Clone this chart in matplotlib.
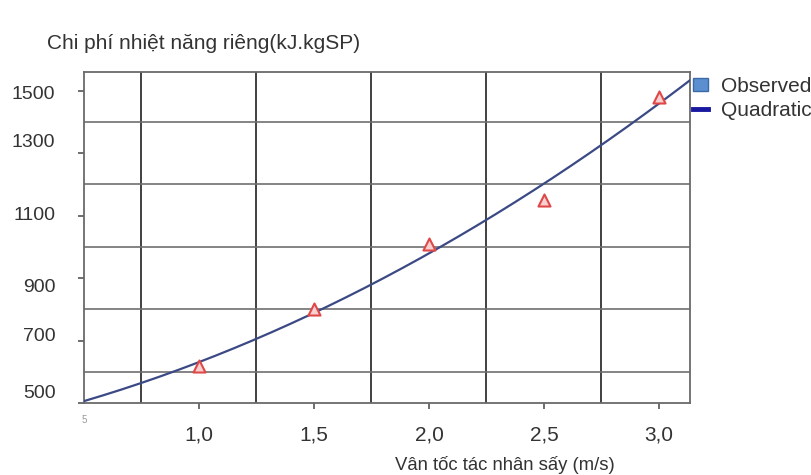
"""
    Chi phi nhiet nang rieng theo van toc tac nhan say
    Observed points + quadratic fit
"""
import matplotlib.pyplot as plt
import matplotlib.transforms as mtransforms
from matplotlib.patches import Patch
from matplotlib.lines import Line2D
import numpy as np

plt.rcParams['font.family'] = ['Liberation Sans', 'DejaVu Sans']

# Observed data
velocity = [1.0, 1.5, 2.0, 2.5, 3.0]
heat_cost = [620, 800, 1010, 1150, 1480]

x_ticks = [1.0, 1.5, 2.0, 2.5, 3.0]
x_tick_labels = ['1,0', '1,5', '2,0', '2,5', '3,0']
y_ticks = [500, 700, 900, 1100, 1300, 1500]
y_tick_labels = ['500', '700', '900', '1100', '1300', '1500']
x_grid = [0.75, 1.25, 1.75, 2.25, 2.75]
y_grid = [600, 800, 1000, 1200, 1400]

# the y labels in the original are slightly off their ticks (points, + is up)
y_label_shift = [7, 3, -7, 0, 8, -3]


def main() -> None:
    fig = plt.figure(figsize=(8.12, 4.75), dpi=100)
    ax = fig.add_axes([0.1034, 0.1516, 0.7464, 0.6968])

    # Quadratic fit of the observed points
    coef = np.polyfit(velocity, heat_cost, 2)
    xs = np.linspace(0.5, 3.2, 200)
    ax.plot(xs, np.polyval(coef, xs), color='#3b4a85', linewidth=1.6, zorder=3)

    ax.scatter(velocity, heat_cost, marker='^', s=75, facecolor='#f8d0d0',
               edgecolor='#e04848', linewidth=1.5, zorder=4)

    # Grid lines sit between the ticks
    for gx in x_grid:
        ax.axvline(gx, color='#404040', linewidth=1.4, zorder=1)
    for gy in y_grid:
        ax.axhline(gy, color='#707070', linewidth=1.2, zorder=1)

    ax.set_xlim(0.5, 3.135)
    ax.set_ylim(500, 1560)
    ax.set_xticks(x_ticks)
    ax.set_xticklabels(x_tick_labels)
    ax.set_yticks(y_ticks)
    ax.set_yticklabels([])
    ax.tick_params(colors='#555555', labelcolor='#333333', length=4, width=1.2)
    ax.tick_params(axis='x', labelsize=15, pad=12)

    # y labels drawn by hand so each can keep its own small offset
    base = mtransforms.blended_transform_factory(ax.transAxes, ax.transData)
    for val, lab, dy in zip(y_ticks, y_tick_labels, y_label_shift):
        tr = base + mtransforms.ScaledTranslation(0, dy / 72, fig.dpi_scale_trans)
        ax.text(-0.047, val, lab, transform=tr, ha='right', va='center',
                fontsize=14, color='#333333')

    for sp in ax.spines.values():
        sp.set_color('#6a6a6a')
        sp.set_linewidth(1.3)

    ax.text(0.0, -0.035, '5', transform=ax.transAxes, fontsize=7, color='#999999',
            ha='center', va='top')

    fig.text(0.058, 0.909, 'Chi phí nhiệt năng riêng(kJ.kgSP)', fontsize=15,
             color='#333333', va='center')
    fig.text(0.486, 0.022, 'Vân tốc tác nhân sấy (m/s)', fontsize=13.3,
             color='#333333', ha='left', va='center')

    handles = [Patch(facecolor='#5b8fcf', edgecolor='#3a6aa8', label='Observed'),
               Line2D([0], [0], color='#1818a0', linewidth=3.5, label='Quadratic')]
    fig.legend(handles=handles, loc='upper left', bbox_to_anchor=(0.853, 0.838),
               frameon=False, fontsize=15, handlelength=0.75, handleheight=0.6,
               handletextpad=0.6, labelspacing=0.22, borderaxespad=0, borderpad=0,
               labelcolor='#333333')

    fig.savefig('out.png', dpi=100)


if __name__ == '__main__':
    main()
